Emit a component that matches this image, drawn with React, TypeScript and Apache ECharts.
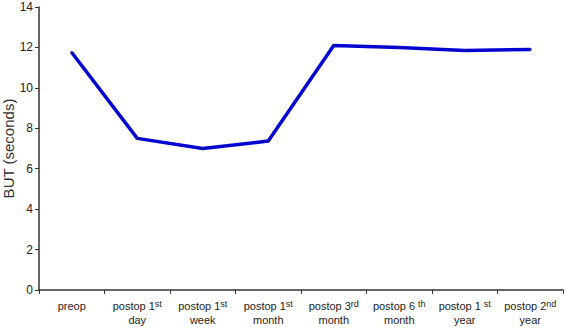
import React, { useEffect, useRef } from "react";
import * as echarts from "echarts";

const categories = [
  "preop",
  "postop 1{sup|st}\nday",
  "postop 1{sup|st}\nweek",
  "postop 1{sup|st}\nmonth",
  "postop 3{sup|rd}\nmonth",
  "postop 6 {sup|th}\nmonth",
  "postop 1 {sup|st}\nyear",
  "postop 2{sup|nd}\nyear",
];
const butValues = [11.75, 7.5, 7.0, 7.37, 12.1, 12.0, 11.85, 11.9];
const yTicks = { min: 0, max: 14, interval: 2 };

export default function App() {
  const ref = useRef<HTMLDivElement>(null);
  useEffect(() => {
    if (!ref.current) return;
    const chart = echarts.init(ref.current, undefined, { renderer: "svg" });
    chart.setOption({
      animation: false,
      backgroundColor: "#ffffff",
      grid: { left: 39, right: 4, top: 7, bottom: 38, outerBoundsMode: "none", containLabel: false },
      xAxis: {
        type: "category",
        data: categories,
        boundaryGap: true,
        axisLine: { lineStyle: { color: "#333", width: 1.5 } },
        axisTick: { show: true, length: 4, inside: false, lineStyle: { color: "#333" } },
        axisLabel: {
          interval: 0,
          margin: 9,
          color: "#222",
          fontFamily: "Liberation Sans, Arial",
          fontSize: 11,
          lineHeight: 14,
          rich: {
            sup: {
              fontSize: 9,
              fontFamily: "Liberation Sans, Arial",
              color: "#222",
              verticalAlign: "top",
              lineHeight: 14,
              padding: [0, 0, 9, 0],
            },
          },
        },
        splitLine: { show: false },
      },
      yAxis: {
        type: "value",
        min: yTicks.min,
        max: yTicks.max,
        interval: yTicks.interval,
        name: "BUT (seconds)",
        nameLocation: "middle",
        nameGap: 23,
        nameMoveOverlap: false,
        nameTextStyle: { fontFamily: "Liberation Sans, Arial", fontSize: 15, color: "#333" },
        axisLine: { show: true, lineStyle: { color: "#333", width: 1.5 } },
        axisTick: { show: true, length: 4, lineStyle: { color: "#333" } },
        axisLabel: { color: "#222", fontFamily: "Liberation Sans, Arial", fontSize: 12, margin: 6 },
        splitLine: { show: false },
      },
      series: [
        {
          type: "line",
          data: butValues,
          lineStyle: { color: "#0505d0", width: 3.5 },
          itemStyle: { color: "#1a1a9a" },
          symbol: "circle",
          symbolSize: 3,
          showSymbol: true,
        },
      ],
    });
    return () => chart.dispose();
  }, []);
  return (
    <div
      ref={ref}
      style={{ position: "fixed", left: 0, top: 0, width: 567, height: 328, background: "#fff" }}
    />
  );
}
